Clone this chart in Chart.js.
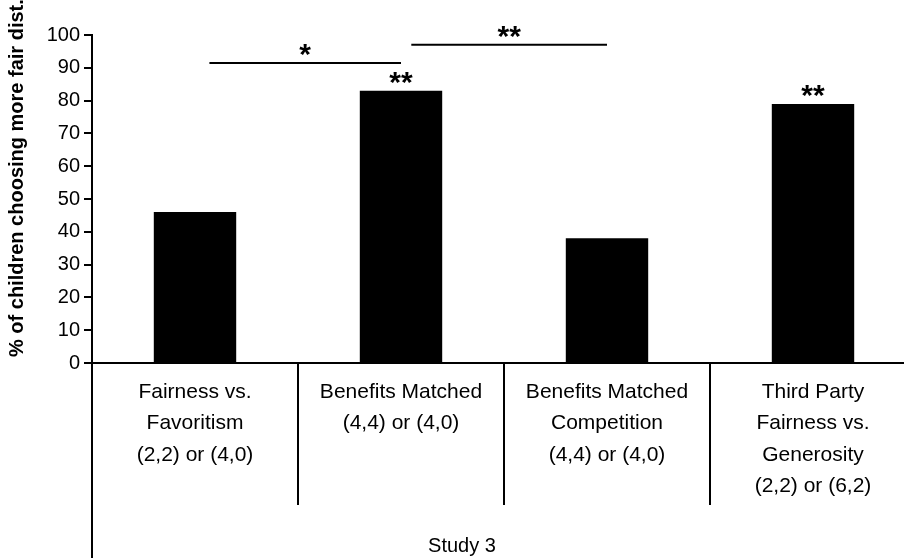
<!DOCTYPE html>
<html>
<head>
<meta charset="utf-8">
<script src="https://cdn.jsdelivr.net/npm/chart.js@4/dist/chart.umd.min.js"></script>
<style>
  html, body { margin: 0; padding: 0; background: #fff; overflow: hidden; }
  #chart { display: block; }
</style>
</head>
<body>
<canvas id="chart" width="920" height="558"></canvas>
<script>
// categories (multi-line labels under the axis)
var categories = [
    ['Fairness vs.', 'Favoritism', '(2,2) or (4,0)'],
    ['Benefits Matched', '(4,4) or (4,0)'],
    ['Benefits Matched', 'Competition', '(4,4) or (4,0)'],
    ['Third Party', 'Fairness vs.', 'Generosity', '(2,2) or (6,2)']
];
// % of children choosing more fair distribution
var fairPercent = [46, 83, 38, 79];
// significance marks above single bars
var barStars = ['', '**', '', '**'];
// comparisons between bars: from index, to index, height (in %), mark
var compFrom = [0.07, 1.05];
var compTo = [1.0, 2.0];
var compLevel = [91.5, 97];
var compStars = ['*', '**'];
var yTicks = [0, 10, 20, 30, 40, 50, 60, 70, 80, 90, 100];

var FONT = '"Liberation Sans", Arial, Helvetica, sans-serif';

// extra drawing: axis extension, separators, titles, stars
var extras = {
    id: 'extras',
    afterDraw: function(chart) {
        var ctx = chart.ctx;
        var x = chart.scales.x;
        var y = chart.scales.y;
        var area = chart.chartArea;
        ctx.save();
        ctx.strokeStyle = '#000';
        ctx.fillStyle = '#000';
        ctx.lineWidth = 2;

        // y axis line continues down to the bottom
        ctx.beginPath();
        ctx.moveTo(area.left, area.bottom);
        ctx.lineTo(area.left, chart.height);
        ctx.stroke();

        // separators between category labels
        for (var i = 1; i < categories.length; i++) {
            var sx = (x.getPixelForValue(i - 1) + x.getPixelForValue(i)) / 2;
            ctx.beginPath();
            ctx.moveTo(sx, area.bottom);
            ctx.lineTo(sx, area.bottom + 142);
            ctx.stroke();
        }

        // comparison lines
        ctx.textAlign = 'center';
        ctx.textBaseline = 'middle';
        ctx.font = 'bold 30px ' + FONT;
        var step = x.getPixelForValue(1) - x.getPixelForValue(0);
        for (var j = 0; j < compFrom.length; j++) {
            var x1 = x.getPixelForValue(0) + compFrom[j] * step;
            var x2 = x.getPixelForValue(0) + compTo[j] * step;
            var ly = y.getPixelForValue(compLevel[j]);
            ctx.beginPath();
            ctx.moveTo(x1, ly);
            ctx.lineTo(x2, ly);
            ctx.stroke();
            ctx.fillText(compStars[j], (x1 + x2) / 2, ly - 7);
        }

        // stars above bars
        for (var k = 0; k < fairPercent.length; k++) {
            if (barStars[k]) {
                ctx.fillText(barStars[k], x.getPixelForValue(k), y.getPixelForValue(fairPercent[k]) - 7);
            }
        }

        // y axis title
        ctx.save();
        ctx.translate(17, 357);
        ctx.rotate(-Math.PI / 2);
        ctx.font = 'bold 20px ' + FONT;
        ctx.textAlign = 'left';
        ctx.textBaseline = 'middle';
        ctx.fillText('% of children choosing more fair dist.', 0, 0);
        ctx.restore();

        // x axis title
        ctx.font = '20px ' + FONT;
        ctx.textAlign = 'center';
        ctx.textBaseline = 'middle';
        ctx.fillText('Study 3', 462, 546);
        ctx.restore();
    }
};

new Chart(document.getElementById('chart'), {
    type: 'bar',
    data: {
        labels: categories,
        datasets: [{
            label: 'Study 3',
            data: fairPercent,
            backgroundColor: '#000',
            borderWidth: 0,
            barPercentage: 0.8,
            categoryPercentage: 0.5
        }]
    },
    options: {
        responsive: false,
        animation: false,
        layout: { padding: { top: 35, right: 4, left: 0, bottom: 0 } },
        plugins: {
            legend: { display: false },
            tooltip: { enabled: false }
        },
        scales: {
            x: {
                offset: true,
                grid: { display: false, drawTicks: false },
                border: { display: true, color: '#000', width: 2 },
                ticks: {
                    color: '#000',
                    font: { family: FONT, size: 21, lineHeight: 1.5 },
                    padding: 13,
                    maxRotation: 0,
                    autoSkip: false
                },
                afterFit: function(scale) { scale.height = 195; }
            },
            y: {
                min: 0,
                max: 100,
                afterBuildTicks: function(scale) {
                    scale.ticks = yTicks.map(function(v) { return { value: v }; });
                },
                grid: { drawOnChartArea: false, drawTicks: true, tickLength: 8, color: '#000', lineWidth: 2 },
                border: { display: true, color: '#000', width: 2 },
                ticks: {
                    color: '#000',
                    font: { family: FONT, size: 20 },
                    padding: 4
                },
                afterFit: function(scale) { scale.width = 92; }
            }
        }
    },
    plugins: [extras]
});
</script>
</body>
</html>
